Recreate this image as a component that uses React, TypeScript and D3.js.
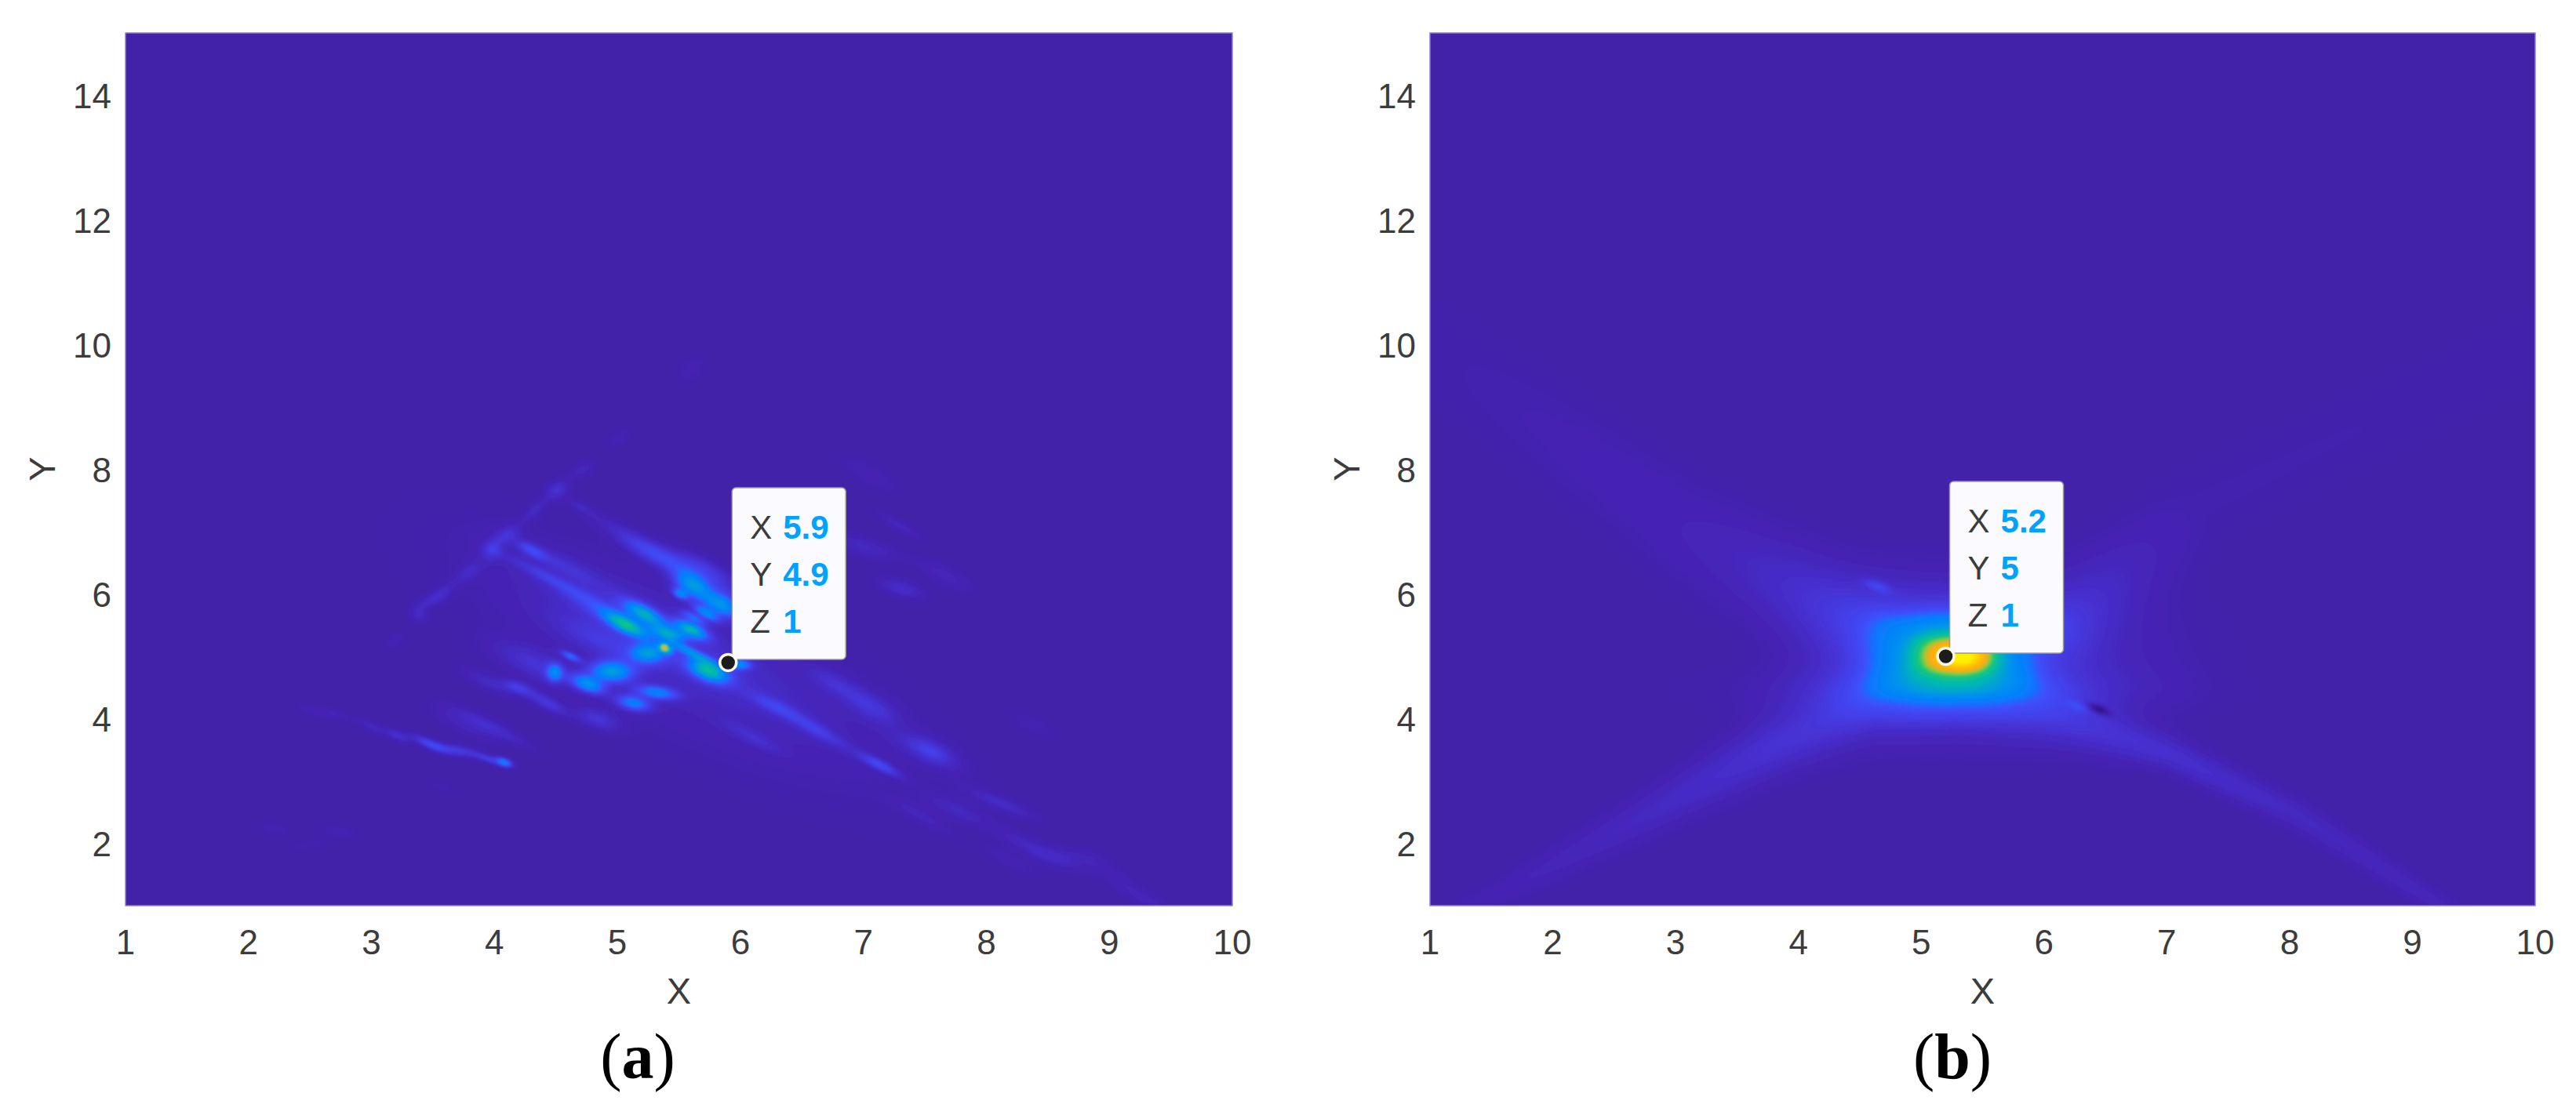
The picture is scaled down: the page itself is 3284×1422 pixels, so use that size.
import React, { useMemo } from "react";
import * as d3 from "d3";

// ---------- axis values ----------
const xTicks = [1, 2, 3, 4, 5, 6, 7, 8, 9, 10];
const yTicks = [2, 4, 6, 8, 10, 12, 14];
const xDomain = [1, 10];
const yDomain = [1, 15];

// ---------- data tips ----------
const tipA = { x: 5.9, y: 4.9, z: 1, panel: "(a)" };
const tipB = { x: 5.2, y: 5, z: 1, panel: "(b)" };

// ---------- colour map (z value -> colour) ----------
const zStops = [-0.14, 0, 0.04, 0.09, 0.14, 0.19, 0.24, 0.32, 0.42, 0.52, 0.6, 0.68, 0.8, 1];
const zColors = ["#2c1280", "#4321a8", "#4425b8", "#4630d0", "#4440ea", "#3e50fb", "#0a78ff", "#0090f0", "#00b8b0", "#18c878", "#a0c830", "#ffa818", "#ffc000", "#fff000"];

// ---------- panel (a): read-off features [x, y, peak z, along, across, slope] ----------
const aCoreSpots = [
  [5.39, 5.13, 0.42, 0.04, 0.022, -1.0],
  [5.38, 5.14, 0.2, 0.016, 0.014, -1.0],
  [5.61, 6.13, 0.31, 0.115, 0.06, -1.1],
  [5.85, 5.82, 0.31, 0.115, 0.06, -0.9],
  [5.22, 5.68, 0.33, 0.13, 0.045, -1.1],
  [5.07, 5.5, 0.35, 0.13, 0.042, -1.0],
  [5.6, 5.43, 0.36, 0.1, 0.038, -0.9],
  [5.42, 5.36, 0.27, 0.1, 0.036, -0.6],
  [5.25, 5.05, 0.27, 0.1, 0.055, -0.1],
  [4.95, 4.75, 0.33, 0.125, 0.06, -0.1],
  [4.76, 4.55, 0.29, 0.1, 0.042, -0.7],
  [5.32, 4.42, 0.25, 0.12, 0.036, -0.3],
  [5.13, 4.25, 0.25, 0.1, 0.042, -0.4],
  [5.74, 4.77, 0.38, 0.12, 0.055, -0.8],
  [6.0, 4.87, 0.26, 0.06, 0.026, -0.2],
  [4.49, 4.74, 0.25, 0.045, 0.05, 0],
  [4.62, 5.0, 0.22, 0.06, 0.018, -0.9],
  [5.72, 5.69, 0.25, 0.08, 0.026, -1.1],
  [5.51, 6.0, 0.23, 0.045, 0.024, -0.9],
  [5.58, 5.08, 0.22, 0.14, 0.022, -1.0],
  [5.62, 5.62, 0.18, 0.08, 0.022, -1.0],
];
const aStreaks = [
  [5.6, 4.85, 0.05, 1.4, 0.42, -0.95],
  [5.35, 5.3, 0.055, 0.8, 0.17, -1.0],
  [5.46, 6.53, 0.11, 0.42, 0.05, -1.1],
  [4.44, 6.26, 0.085, 0.28, 0.032, -1.0],
  [4.3, 6.7, 0.12, 0.09, 0.03, -1.0],
  [5.29, 6.6, 0.085, 0.24, 0.05, -1.1],
  [5.72, 6.43, 0.09, 0.2, 0.05, -1.1],
  [4.87, 5.75, 0.09, 0.26, 0.055, -1.0],
  [4.55, 6.47, 0.065, 0.28, 0.05, -1.0],
  [4.87, 5.24, 0.07, 0.3, 0.08, -0.9],
  [4.33, 4.87, 0.085, 0.24, 0.08, -0.9],
  [4.19, 4.5, 0.12, 0.09, 0.035, -0.7],
  [4.43, 4.25, 0.11, 0.12, 0.038, -1.0],
  [4.84, 3.99, 0.095, 0.13, 0.055, -0.6],
  [4.02, 3.83, 0.06, 0.22, 0.04, -1.0],
  [3.79, 3.92, 0.055, 0.22, 0.07, -0.9],
  [3.95, 4.58, 0.06, 0.16, 0.05, -0.9],
  [7.13, 3.26, 0.15, 0.13, 0.03, -1.0],
  [7.08, 4.17, 0.085, 0.16, 0.07, -1.0],
  [6.61, 3.83, 0.1, 0.2, 0.04, -1.1],
  [6.27, 4.21, 0.09, 0.15, 0.04, -0.9],
  [6.78, 4.55, 0.07, 0.18, 0.06, -1.0],
  [7.0, 6.76, 0.06, 0.2, 0.06, -0.6],
  [7.31, 6.09, 0.08, 0.13, 0.05, -0.6],
  [7.29, 7.1, 0.05, 0.15, 0.035, -1.1],
  [7.06, 7.9, 0.03, 0.2, 0.07, -1.1],
  [7.66, 6.3, 0.045, 0.18, 0.06, -1.0],
  [6.1, 3.7, 0.06, 0.18, 0.04, -1.0],
  [7.49, 3.49, 0.06, 0.2, 0.06, -1.0],
  [7.57, 3.49, 0.075, 0.14, 0.06, -0.9],
  [8.12, 2.64, 0.065, 0.2, 0.04, -0.8],
  [7.76, 2.53, 0.05, 0.17, 0.05, -0.8],
  [7.46, 2.45, 0.04, 0.17, 0.04, -1.1],
  [8.4, 1.9, 0.055, 0.25, 0.05, -1.0],
  [8.7, 1.78, 0.042, 0.2, 0.055, -0.3],
  [8.19, 1.73, 0.028, 0.17, 0.045, -1.0],
  [9.09, 1.4, 0.032, 0.2, 0.05, -1.2],
  [9.33, 1.06, 0.035, 0.16, 0.045, -0.8],
  [8.38, 3.9, 0.022, 0.18, 0.06, -1.0],
];
const aLowerStreak = [
  [3.47, 3.6, 0.15, 0.11, 0.026, -0.9],
  [3.7, 3.49, 0.13, 0.13, 0.03, -0.4],
  [4.08, 3.3, 0.27, 0.05, 0.022, -0.7],
  [3.95, 3.35, 0.12, 0.08, 0.02, -0.7],
  [3.21, 3.73, 0.09, 0.08, 0.028, -0.9],
  [3.0, 3.87, 0.06, 0.08, 0.034, -0.9],
  [2.7, 4.08, 0.04, 0.1, 0.028, -0.7],
  [2.5, 4.12, 0.035, 0.09, 0.03, -0.7],
  [3.57, 2.91, 0.02, 0.12, 0.04, -0.7],
  [2.21, 2.23, 0.028, 0.1, 0.04, -0.3],
  [2.74, 2.2, 0.025, 0.14, 0.035, -0.3],
  [2.49, 1.98, 0.022, 0.16, 0.035, 0.4],
  [1.4, 1.27, 0.012, 0.1, 0.03, 0.8],
];
const aCrossLine = [
  [4.51, 7.67, 0.09, 0.07, 0.05, 1.2],
  [4.33, 7.35, 0.06, 0.08, 0.035, 1.6],
  [4.1, 6.95, 0.075, 0.09, 0.045, 1.2],
  [3.98, 6.7, 0.09, 0.06, 0.055, 1.4],
  [3.79, 6.35, 0.055, 0.08, 0.045, 1.5],
  [3.58, 6.05, 0.05, 0.08, 0.035, 1.2],
  [3.5, 5.9, 0.06, 0.09, 0.032, 0.6],
  [3.39, 5.68, 0.065, 0.05, 0.05, 1.0],
  [3.19, 5.25, 0.035, 0.06, 0.045, 1.4],
  [4.72, 8.0, 0.05, 0.08, 0.045, 0.8],
  [5.02, 8.5, 0.03, 0.09, 0.045, 1.2],
  [5.6, 9.6, 0.028, 0.1, 0.07, 1.4],
  [4.7, 7.4, 0.05, 0.07, 0.03, -1.0],
];

// ---------- panel (b): ridges [x, y, z, width] and spots ----------
const bLowerArch = [
  [1.2, 0.9, 0.02, 0.07], [1.51, 1.14, 0.03, 0.09], [2.76, 2.45, 0.06, 0.13], [3.8, 3.55, 0.09, 0.17],
  [4.58, 4.2, 0.08, 0.18], [5.3, 4.25, 0.055, 0.18], [6.05, 4.06, 0.08, 0.17], [7.03, 3.43, 0.085, 0.1],
  [8.07, 2.45, 0.06, 0.09], [9.17, 1.08, 0.045, 0.07], [9.4, 0.9, 0.03, 0.05],
];
const bUpperLeftArm = [
  [1.0, 10.0, 0.014, 0.3], [3.0, 7.15, 0.035, 0.28], [3.9, 6.2, 0.06, 0.26], [4.5, 5.5, 0.07, 0.24],
];
const bUpperRightArm = [
  [6.2, 5.6, 0.065, 0.22], [7.24, 7.4, 0.018, 0.26], [10.0, 10.0, 0.016, 0.24],
];
const bGlow = [
  [5.27, 5.0, 0.105, 1.0, 0.42, 0],
  [5.3, 4.45, 0.075, 0.95, 0.14, 0],
  [5.1, 5.7, 0.03, 0.7, 0.2, -0.3],
  [4.64, 6.13, 0.09, 0.08, 0.028, -0.7],
  [6.27, 4.2, 0.07, 0.06, 0.025, -0.8],
  [6.45, 4.15, -0.2, 0.06, 0.02, -0.8],
  [3.7, 5.0, -0.02, 0.4, 0.3, 0],
];
// box plateau and hot core: [x, y, z, half-width X, half-height Y, power]
const bPlateaus = [
  [5.27, 5.02, 0.1, 0.7, 0.68, 3],
  [5.27, 5.02, 0.24, 0.5, 0.62, 1],
  [5.26, 5.02, 0.25, 0.3, 0.3, 1.5],
  [5.34, 5.0, 0.38, 0.2, 0.19, 1],
];

const nx = 480;
const ny = 372;
const ySquash = 0.507; // one Y unit in X-unit lengths on screen

type Row = number[];

function addGauss(f: Float32Array, rows: Row[], gx: any, gy: any) {
  for (const [cx, cy, z, al, ac, sl] of rows) {
    const ang = Math.atan(sl * ySquash);
    const c = Math.cos(ang), s = Math.sin(ang);
    const R = 4.5 * Math.max(al, ac);
    for (let j = 0; j < ny; j++) {
      const dy = (gy(j + 0.5) - cy) * ySquash;
      if (Math.abs(dy) > R) continue;
      for (let i = 0; i < nx; i++) {
        const dx = gx(i + 0.5) - cx;
        if (Math.abs(dx) > R) continue;
        const u = dx * c + dy * s, v = -dx * s + dy * c;
        f[j * nx + i] += z * Math.exp(-0.5 * (u * u / (al * al) + v * v / (ac * ac)));
      }
    }
  }
}

function addRidge(f: Float32Array, nodes: Row[], gx: any, gy: any) {
  for (let j = 0; j < ny; j++) {
    const py = gy(j + 0.5) * ySquash;
    for (let i = 0; i < nx; i++) {
      const px = gx(i + 0.5);
      let best = 0;
      for (let k = 0; k < nodes.length - 1; k++) {
        const [x0, y0, z0, w0] = nodes[k];
        const [x1, y1, z1, w1] = nodes[k + 1];
        const ax = x0, ay = y0 * ySquash, bx = x1 - x0, by = (y1 - y0) * ySquash;
        let t = ((px - ax) * bx + (py - ay) * by) / (bx * bx + by * by);
        t = Math.max(0, Math.min(1, t));
        const ex = px - ax - t * bx, ey = py - ay - t * by;
        const w = w0 + (w1 - w0) * t, z = z0 + (z1 - z0) * t;
        const val = z * Math.exp(-0.5 * (ex * ex + ey * ey) / (w * w));
        if (val > best) best = val;
      }
      f[j * nx + i] += best;
    }
  }
}

function addPlateau(f: Float32Array, rows: Row[], gx: any, gy: any) {
  for (const [cx, cy, z, a, b, p] of rows) {
    for (let j = 0; j < ny; j++) {
      const dy = Math.abs(gy(j + 0.5) - cy) / b;
      for (let i = 0; i < nx; i++) {
        const dx = Math.abs(gx(i + 0.5) - cx) / a;
        if (dx > 3 || dy > 3) continue;
        f[j * nx + i] += z * Math.exp(-(Math.pow(dx, 2 * p) + Math.pow(dy, 2 * p)));
      }
    }
  }
}

const thresholds = [
  ...d3.range(-0.14, 0, 0.02),
  ...d3.range(0.002, 0.3, 0.005),
  ...d3.range(0.3, 1.05, 0.012),
];
const colorOf = d3.scaleLinear<string>().domain(zStops).range(zColors).clamp(true);

function Heat({ field, x, y, id }: any) {
  const gridX = d3.scaleLinear().domain([0, nx]).range(xDomain);
  const gridY = d3.scaleLinear().domain([0, ny]).range(yDomain);
  const path = d3.geoPath(
    d3.geoTransform({
      point(a: number, b: number) {
        (this as any).stream.point(x(gridX(a)), y(gridY(b)));
      },
    })
  );
  const bands = useMemo(
    () => d3.contours().size([nx, ny]).thresholds(thresholds)(Array.from(field) as number[]),
    [field]
  );
  return (
    <g>
      <clipPath id={id}>
        <rect x={x(1)} y={y(15)} width={x(10) - x(1)} height={y(1) - y(15)} />
      </clipPath>
      <g clipPath={`url(#${id})`}>
        <rect x={x(1)} y={y(15)} width={x(10) - x(1)} height={y(1) - y(15)} fill={zColors[1]} />
        <g filter="url(#soft)">
          <rect x={x(1) - 10} y={y(15) - 10} width={x(10) - x(1) + 20} height={y(1) - y(15) + 20} fill={zColors[0]} />
          {bands.map((b: any, i: number) => (
            <path key={i} d={path(b) || ""} fill={colorOf(b.value)} />
          ))}
        </g>
      </g>
    </g>
  );
}

const font = "'Liberation Sans', Arial, sans-serif";
const inkGray = "#3c3c3c";

function Panel({ field, left, right, tip, id, captionX }: any) {
  const x = d3.scaleLinear().domain(xDomain).range([left, right]);
  const y = d3.scaleLinear().domain(yDomain).range([1155, 42]);
  const mx = x(tip.x);
  const my = y(tip.y);
  const bx = mx + 5;
  const by = my - 223;
  const bw = 145;
  const bh = 219;
  const rowsText = [
    ["X", tip.x],
    ["Y", tip.y],
    ["Z", tip.z],
  ];
  return (
    <g>
      <Heat field={field} x={x} y={y} id={id} />
      <rect x={left} y={42} width={right - left} height={1113} fill="none" stroke="#8f7fd8" strokeWidth={1.5} />
      {xTicks.map((t) => (
        <text key={t} x={x(t)} y={1217} fontFamily={font} fontSize={44} fill={inkGray} textAnchor="middle">
          {t}
        </text>
      ))}
      {yTicks.map((t) => (
        <text key={t} x={left - 18} y={y(t) + 16} fontFamily={font} fontSize={44} fill={inkGray} textAnchor="end">
          {t}
        </text>
      ))}
      <text x={(left + right) / 2} y={1280} fontFamily={font} fontSize={47} fill={inkGray} textAnchor="middle">
        X
      </text>
      <text
        transform={`translate(${left - 90},598) rotate(-90)`}
        fontFamily={font}
        fontSize={47}
        fill={inkGray}
        textAnchor="middle"
      >
        Y
      </text>
      <rect x={bx} y={by} width={bw} height={bh} rx={5} fill="#fbfbff" stroke="#9a9a9a" strokeWidth={1.5} />
      {rowsText.map(([k, v]: any, i: number) => (
        <g key={k}>
          <text x={bx + 23} y={by + 65 + i * 60} fontFamily={font} fontSize={42} fill={inkGray}>
            {k}
          </text>
          <text x={bx + 65} y={by + 65 + i * 60} fontFamily={font} fontSize={42} fontWeight="bold" fill="#00a2ff">
            {v}
          </text>
        </g>
      ))}
      <circle cx={mx} cy={my} r={10.5} fill="#1c1c1c" stroke="#fdfbe8" strokeWidth={3.5} />
      <text
        x={captionX}
        y={1375}
        fontFamily="'Liberation Serif', 'Times New Roman', serif"
        fontSize={82}
        fill="#000"
        textAnchor="middle"
      >
        (<tspan fontWeight="bold">{tip.panel.slice(1, 2)}</tspan>)
      </text>
    </g>
  );
}

export default function App() {
  const gx = d3.scaleLinear().domain([0, nx]).range(xDomain);
  const gy = d3.scaleLinear().domain([0, ny]).range(yDomain);
  const fieldA = useMemo(() => {
    const f = new Float32Array(nx * ny);
    addGauss(f, aCoreSpots, gx, gy);
    addGauss(f, aStreaks, gx, gy);
    addGauss(f, aLowerStreak, gx, gy);
    addGauss(f, aCrossLine, gx, gy);
    return f;
  }, []);
  const fieldB = useMemo(() => {
    const f = new Float32Array(nx * ny);
    addRidge(f, bLowerArch, gx, gy);
    addRidge(f, bUpperLeftArm, gx, gy);
    addRidge(f, bUpperRightArm, gx, gy);
    addGauss(f, bGlow, gx, gy);
    addPlateau(f, bPlateaus, gx, gy);
    return f;
  }, []);
  return (
    <svg
      width={3284}
      height={1422}
      viewBox="0 0 3284 1422"
      style={{ position: "absolute", left: 0, top: 0, background: "#fff", display: "block" }}
    >
      <defs>
        <filter id="soft" x="0" y="0" width="1" height="1">
          <feGaussianBlur stdDeviation={1.4} />
        </filter>
      </defs>
      <Panel field={fieldA} left={160} right={1571} tip={tipA} id="clipA" captionX={813} />
      <Panel field={fieldB} left={1823} right={3232} tip={tipB} id="clipB" captionX={2489} />
    </svg>
  );
}
